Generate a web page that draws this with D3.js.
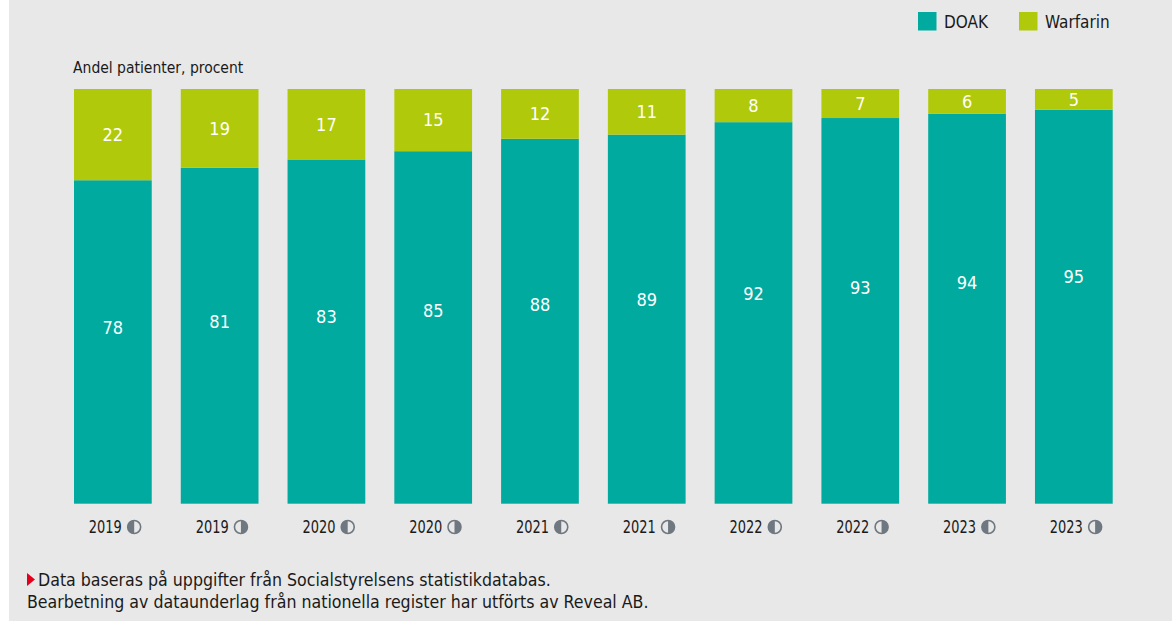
<!DOCTYPE html>
<html>
<head>
<meta charset="utf-8">
<script src="https://cdn.jsdelivr.net/npm/d3@7"></script>
<style>
  html, body { margin: 0; padding: 0; background: #fff; }
  svg { display: block; }
  text { font-family: "Liberation Sans Narrow", "DejaVu Sans Condensed", Roboto, sans-serif; }
</style>
</head>
<body>
<div id="chart"></div>
<script>
const years = ['2019', '2019', '2020', '2020', '2021', '2021', '2022', '2022', '2023', '2023'];
const halves = ['H1', 'H2', 'H1', 'H2', 'H1', 'H2', 'H1', 'H2', 'H1', 'H2'];
const doak = [78, 81, 83, 85, 88, 89, 92, 93, 94, 95];
const warfarin = [22, 19, 17, 15, 12, 11, 8, 7, 6, 5];
const seriesNames = ['DOAK', 'Warfarin'];
const colors = { DOAK: '#00aa9e', Warfarin: '#b0ca0b' };

const width = 1173;
const height = 621;
const margin = { top: 89, right: 60, bottom: 117, left: 74 };

const svg = d3.select('#chart').append('svg')
  .attr('width', width)
  .attr('height', height);

// grey panel
svg.append('rect')
  .attr('x', 9)
  .attr('y', 0)
  .attr('width', 1163)
  .attr('height', height)
  .attr('fill', '#e8e8e8');

const data = years.map((y, i) => ({ i, year: y, half: halves[i], DOAK: doak[i], Warfarin: warfarin[i] }));

const x = d3.scaleBand()
  .domain(d3.range(data.length))
  .range([margin.left, 1112.7])
  .paddingInner(0.272)
  .paddingOuter(0);

const y = d3.scaleLinear()
  .domain([0, 100])
  .range([503.7, margin.top]);

const stack = d3.stack().keys(seriesNames);
const layers = stack(data);

const layer = svg.selectAll('.layer')
  .data(layers)
  .enter().append('g')
  .attr('class', 'layer')
  .attr('fill', (d) => colors[d.key]);

layer.selectAll('rect')
  .data((d) => d)
  .enter().append('rect')
  .attr('x', (d, i) => x(i))
  .attr('width', x.bandwidth())
  .attr('y', (d) => y(d[1]))
  .attr('height', (d) => y(d[0]) - y(d[1]));

// value labels
// DOAK labels sit a bit lower than segment centre, drifting up bar by bar
svg.selectAll('.lbl-doak')
  .data(data)
  .enter().append('text')
  .attr('class', 'lbl-doak')
  .attr('x', (d) => x(d.i) + x.bandwidth() / 2)
  .attr('y', (d) => y(42.4 + 1.37 * d.i))
  .attr('dy', '.35em')
  .attr('text-anchor', 'middle')
  .attr('fill', '#fff')
  .style('font-size', '18px')
  .text((d) => d.DOAK);

svg.selectAll('.lbl-warf')
  .data(data)
  .enter().append('text')
  .attr('class', 'lbl-warf')
  .attr('x', (d) => x(d.i) + x.bandwidth() / 2)
  .attr('y', (d) => y(d.DOAK + d.Warfarin / 2))
  .attr('dy', '.35em')
  .attr('text-anchor', 'middle')
  .attr('fill', '#fff')
  .style('font-size', '18px')
  .text((d) => d.Warfarin);

// x axis labels: year + half-circle icon
const tick = svg.selectAll('.tick')
  .data(data)
  .enter().append('g')
  .attr('class', 'tick')
  .attr('transform', (d) => 'translate(' + (x(d.i) + x.bandwidth() / 2) + ',533)');

tick.append('text')
  .attr('x', -24)
  .attr('textLength', 33)
  .attr('lengthAdjust', 'spacingAndGlyphs')
  .attr('fill', '#1a1a1a')
  .style('font-size', '17px')
  .text((d) => d.year);

const iconR = 6.5;
tick.append('circle')
  .attr('cx', 21.3)
  .attr('cy', -6)
  .attr('r', iconR)
  .attr('fill', '#e8e8e8')
  .attr('stroke', '#6f7880')
  .attr('stroke-width', 1.6);

tick.append('path')
  .attr('transform', 'translate(21.3,-6)')
  .attr('fill', '#6f7880')
  .attr('d', (d) => d.half === 'H1'
    ? 'M0,' + (-iconR) + 'A' + iconR + ',' + iconR + ' 0 0 0 0,' + iconR + 'Z'
    : 'M0,' + (-iconR) + 'A' + iconR + ',' + iconR + ' 0 0 1 0,' + iconR + 'Z');

// y title
svg.append('text')
  .attr('x', 73)
  .attr('y', 73)
  .attr('fill', '#1a1a1a')
  .style('font-size', '15.5px')
  .text('Andel patienter, procent');

// legend
const legendX = [918, 1019];
const legend = svg.selectAll('.legend')
  .data(seriesNames)
  .enter().append('g')
  .attr('class', 'legend')
  .attr('transform', (d, i) => 'translate(' + legendX[i] + ',12)');

legend.append('rect')
  .attr('width', 18.5)
  .attr('height', 18.5)
  .attr('fill', (d) => colors[d]);

legend.append('text')
  .attr('x', 26)
  .attr('y', 15.5)
  .attr('fill', '#1a1a1a')
  .style('font-size', '17px')
  .text((d) => d);

// footer
svg.append('path')
  .attr('d', 'M27,573L35,579.5L27,586Z')
  .attr('fill', '#e2001a');

svg.append('text')
  .attr('x', 38)
  .attr('y', 586)
  .attr('fill', '#1a1a1a')
  .style('font-size', '17.6px')
  .text('Data baseras på uppgifter från Socialstyrelsens statistikdatabas.');

svg.append('text')
  .attr('x', 27)
  .attr('y', 608)
  .attr('fill', '#1a1a1a')
  .style('font-size', '17.6px')
  .text('Bearbetning av dataunderlag från nationella register har utförts av Reveal AB.');
</script>
</body>
</html>
